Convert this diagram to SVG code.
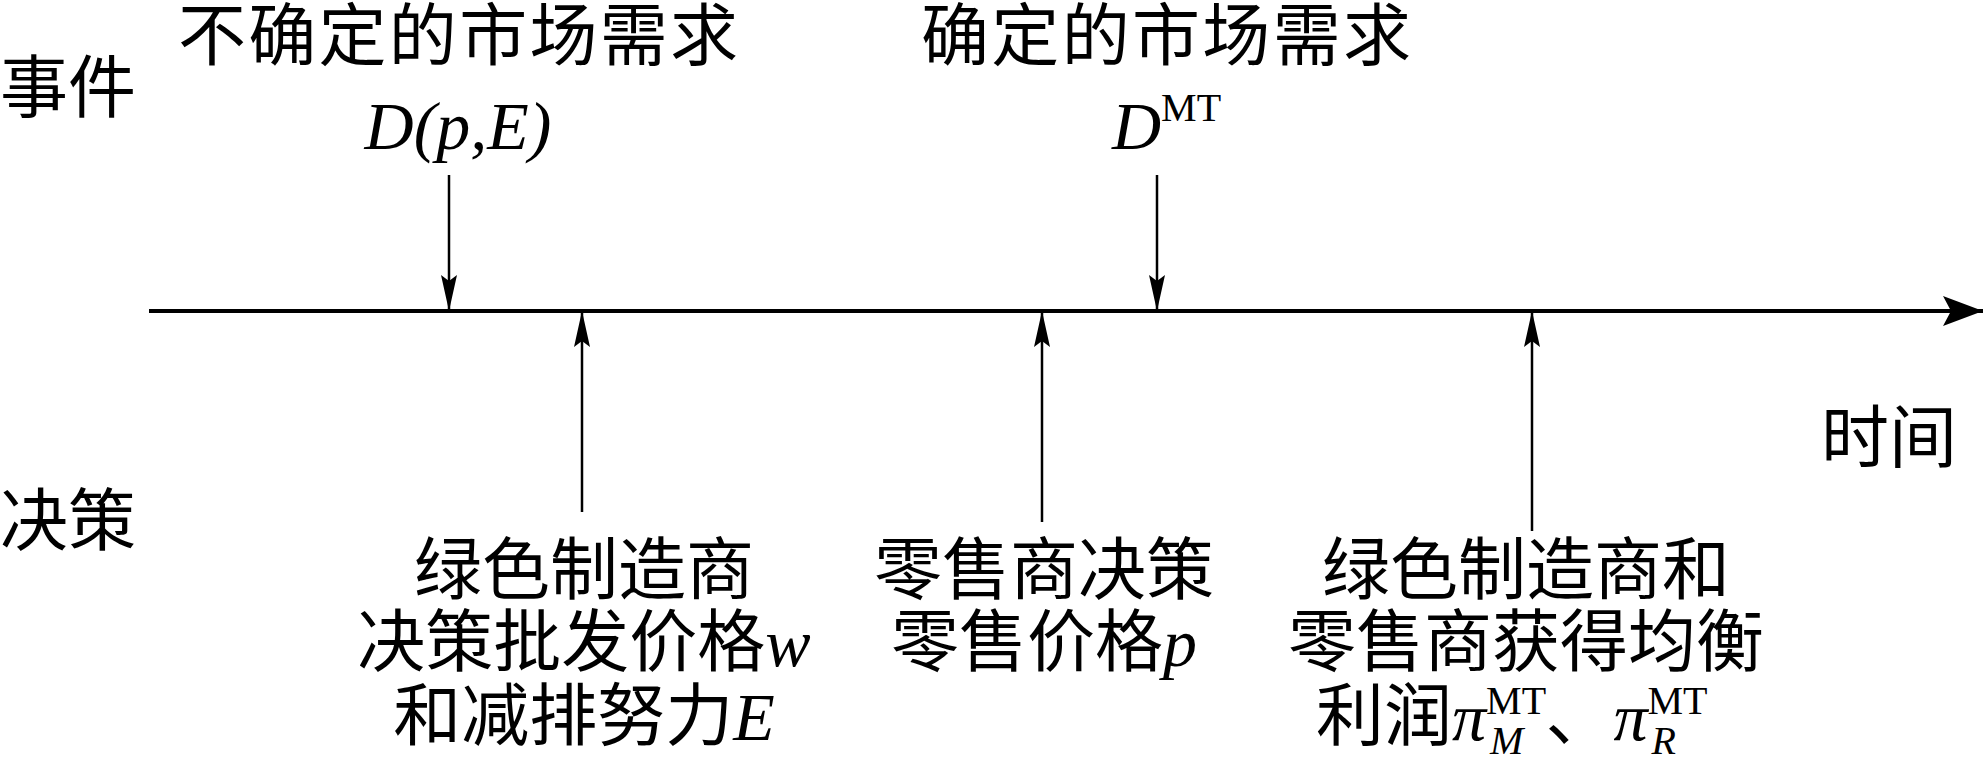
<svg xmlns="http://www.w3.org/2000/svg" width="1983" height="771" viewBox="0 0 1983 771">
<defs>
<marker id="ah" viewBox="0 0 36 16" refX="36" refY="8" markerWidth="36" markerHeight="16" markerUnits="userSpaceOnUse" orient="auto"><path d="M0,0 L36,8 L0,16 L6,8 Z" fill="#000"/></marker>
<marker id="big" viewBox="0 0 40 30" refX="40" refY="15" markerWidth="40" markerHeight="30" markerUnits="userSpaceOnUse" orient="auto"><path d="M0,0 L40,15 L0,30 L8,15 Z" fill="#000"/></marker>
<style>
text{font-family:"Liberation Serif","Noto Sans CJK SC",serif;font-size:68px;fill:#000}
.c{text-anchor:middle}
.i{font-style:italic}
.s{font-size:40px}
line{stroke:#000;stroke-width:2.5}
</style>
</defs>
<rect width="1983" height="771" fill="#fff"/>
<g id="connectors">
<line x1="149" y1="311" x2="1983" y2="311" marker-end="url(#big)" style="stroke-width:4"/>
<line x1="449" y1="175" x2="449" y2="311" marker-end="url(#ah)"/>
<line x1="1157" y1="175" x2="1157" y2="311" marker-end="url(#ah)"/>
<line x1="582" y1="512" x2="582" y2="311" marker-end="url(#ah)"/>
<line x1="1042" y1="522" x2="1042" y2="311" marker-end="url(#ah)"/>
<line x1="1532" y1="531" x2="1532" y2="311" marker-end="url(#ah)"/>
</g>
<g id="labels">
<text x="0" y="112">事件</text>
<text x="0" y="545">决策</text>
<text x="1821" y="462">时间</text>
</g>
<g id="event1">
<text class="c" x="458" y="60" textLength="560">不确定的市场需求</text>
<text class="c i" x="458" y="149">D(p,E)</text>
</g>
<g id="event2">
<text class="c" x="1166" y="60" textLength="490">确定的市场需求</text>
<text class="i" x="1112" y="149">D<tspan class="s" font-style="normal" dy="-28">MT</tspan></text>
</g>
<g id="decision1">
<text class="c" x="584" y="594">绿色制造商</text>
<text class="c" x="584" y="666">决策批发价格<tspan class="i">w</tspan></text>
<text class="c" x="584" y="740">和减排努力<tspan class="i">E</tspan></text>
</g>
<g id="decision2">
<text class="c" x="1044" y="594">零售商决策</text>
<text class="c" x="1044" y="666">零售价格<tspan class="i">p</tspan></text>
</g>
<g id="decision3">
<text class="c" x="1526" y="594">绿色制造商和</text>
<text class="c" x="1526" y="666">零售商获得均衡</text>
<text x="1316" y="740">利润<tspan class="i">π</tspan><tspan class="s" dy="-26">MT</tspan><tspan class="s i" dx="-56" dy="40">M</tspan><tspan dx="22" dy="-14">、</tspan><tspan class="i">π</tspan><tspan class="s" dy="-26">MT</tspan><tspan class="s i" dx="-56" dy="40">R</tspan></text>
</g>
</svg>
